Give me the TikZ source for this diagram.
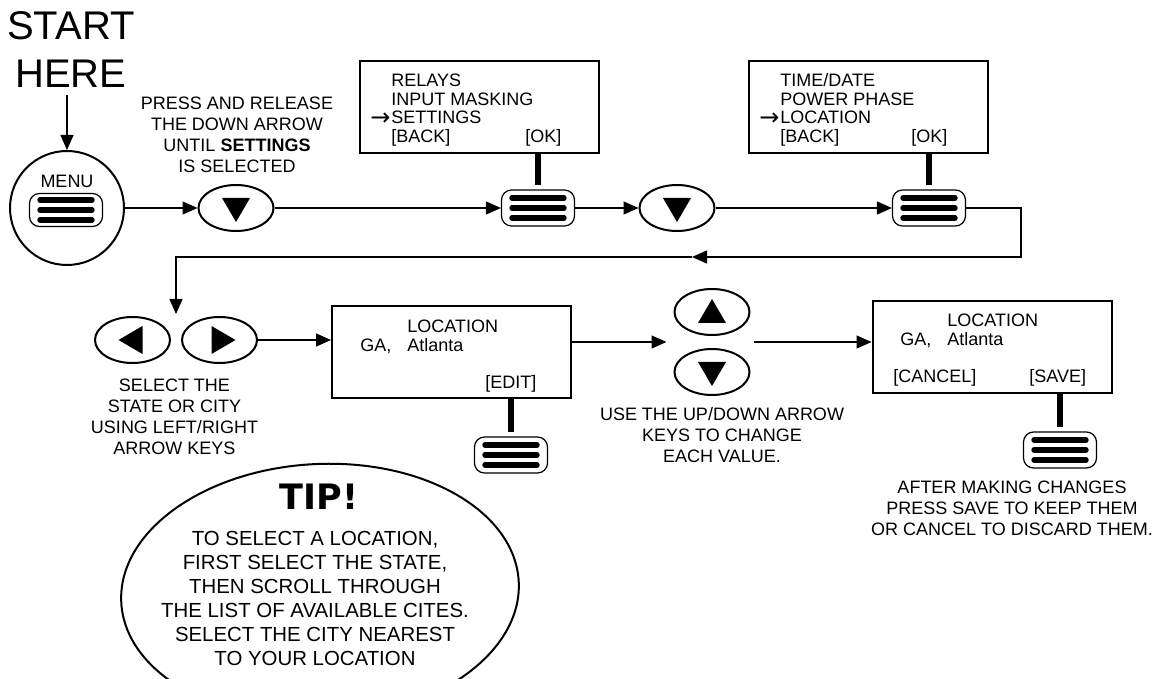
\documentclass[tikz,border=0pt]{standalone}
\usepackage{fontspec}
\setmainfont{Liberation Sans}
\newfontfamily\tipfont{DejaVu Sans}
\usetikzlibrary{arrows.meta,calc,shapes.geometric}

\begin{document}
\begin{tikzpicture}[
  x=0.5pt,
  y=-0.5pt,
  every node/.style={font=\fontsize{9}{10.5}\selectfont},
  screen/.style={
    draw,
    line width=1pt,
    minimum width=119.5pt,
    minimum height=46pt
  },
  scrtext/.style={anchor=base west, inner sep=0pt},
  pointer/.style={
    anchor=base east,
    inner sep=0pt,
    font=\tipfont\fontsize{12}{12}\selectfont
  },
  hint/.style={align=center, inner sep=0pt},
  dial/.style={draw, circle, line width=1pt, minimum size=57pt},
  key/.style={
    draw,
    ellipse,
    line width=1pt,
    minimum width=37.5pt,
    minimum height=23pt
  },
  key down/.style={key, path picture={
    \fill ([shift={(-14,-10)}]path picture bounding box.center)
      -- ++(28,0) -- ++(-14,24) -- cycle;}},
  key up/.style={key, path picture={
    \fill ([shift={(-14,11)}]path picture bounding box.center)
      -- ++(28,0) -- ++(-14,-24) -- cycle;}},
  key left/.style={key, path picture={
    \fill ([shift={(10,-14)}]path picture bounding box.center)
      -- ++(0,28) -- ++(-24,-14) -- cycle;}},
  key right/.style={key, path picture={
    \fill ([shift={(-8,-14)}]path picture bounding box.center)
      -- ++(0,28) -- ++(24,-14) -- cycle;}},
  okkey/.style={
    draw,
    rounded corners=5pt,
    line width=0.6pt,
    minimum width=36.5pt,
    minimum height=18pt,
    path picture={
      \foreach \yy in {-10,0,10}
        \draw[line width=2.7pt, line cap=round]
          ([shift={(-26,\yy)}]path picture bounding box.center) -- ++(52,0);
    }
  },
  bubble/.style={
    draw,
    ellipse,
    line width=1pt,
    rotate=3,
    minimum width=199pt,
    minimum height=128pt
  },
  arrow/.style={-{Triangle[length=7.5pt,width=6.5pt]}, line width=0.7pt},
  stem/.style={line width=3pt, shorten >=2pt}
]
\clip (0,0) rectangle (1152,679);

\node[font=\fontsize{20}{24}\selectfont, align=center] (start) at (71,50) {START\\HERE};
\node[dial] (menu) at (67,208) {};
\node (menulabel) at (67,181) {MENU};
\node[okkey, minimum height=16.5pt] (menukey) at (66,210) {};

\node[key down] (dn1) at (236,208) {};
\node[hint] (presshint) at (237,134.5) {PRESS AND RELEASE\\THE DOWN ARROW\\UNTIL \textbf{SETTINGS}\\IS SELECTED};

\node[screen] (scr1) at (479.5,107) {};
\node[scrtext] (relays) at (391,87) {RELAYS};
\node[scrtext] (masking) at (391,106) {INPUT MASKING};
\node[scrtext] (settings) at (391,123.5) {SETTINGS};
\node[pointer] (pick1) at ([yshift=-1pt]settings.base west) {→};
\node[scrtext] (back1) at (391,143) {[BACK]};
\node[scrtext] (ok1) at (525,143) {[OK]};
\node[okkey] (btn1) at (538,208) {};

\node[key down] (dn2) at (677,208) {};

\node[screen] (scr2) at (868.5,107) {};
\node[scrtext] (timedate) at (780,87) {TIME/DATE};
\node[scrtext] (phase) at (780,106) {POWER PHASE};
\node[scrtext] (location) at (780,123.5) {LOCATION};
\node[pointer] (pick2) at ([yshift=-1pt]location.base west) {→};
\node[scrtext] (back2) at (780,143) {[BACK]};
\node[scrtext] (ok2) at (911,143) {[OK]};
\node[okkey] (btn2) at (929,208) {};

\node[key left] (lt) at (132.5,340) {};
\node[key right] (rt) at (219.5,340) {};
\node[hint] (lrhint) at (174.5,417) {SELECT THE\\STATE OR CITY\\USING LEFT/RIGHT\\ARROW KEYS};

\node[screen] (scr3) at (451.5,352.5) {};
\node[scrtext] (loc3) at (407,333) {LOCATION};
\node[scrtext] (state3) at (360,352) {GA,};
\node[scrtext] (city3) at (407,352) {Atlanta};
\node[scrtext] (edit3) at (485,389) {[EDIT]};
\node[okkey] (btn3) at (511,455) {};

\node[key up] (up) at (712,312) {};
\node[key down] (dn3) at (712,372) {};
\node[hint] (udhint) at (722,435) {USE THE UP/DOWN ARROW\\KEYS TO CHANGE\\EACH VALUE.};

\node[screen] (scr4) at (992,347) {};
\node[scrtext] (loc4) at (947,327) {LOCATION};
\node[scrtext] (state4) at (900,346) {GA,};
\node[scrtext] (city4) at (947,346) {Atlanta};
\node[scrtext] (cancel4) at (893,383) {[CANCEL]};
\node[scrtext] (save4) at (1029,383) {[SAVE]};
\node[okkey] (btn4) at (1060,450) {};
\node[hint] (savehint) at (1012,508) {AFTER MAKING CHANGES\\PRESS SAVE TO KEEP THEM\\OR CANCEL TO DISCARD THEM.};

\node[bubble] (tip) at (320,592) {};
\node[font=\tipfont\bfseries\fontsize{17.5}{17.5}\selectfont] (tiptitle) at (319,497) {TIP!};
\node[hint, font=\fontsize{10.2}{12}\selectfont] (tipnote) at (315,598) {TO SELECT A LOCATION,\\FIRST SELECT THE STATE,\\THEN SCROLL THROUGH\\THE LIST OF AVAILABLE CITES.\\SELECT THE CITY NEAREST\\TO YOUR LOCATION};

\draw[arrow] (start.south -| menu) -- (menu.north);
\draw[arrow] (menu) -- (dn1);
\draw[arrow] (dn1) -- (btn1);
\draw[arrow] (btn1) -- (dn2);
\draw[arrow] (dn2) -- (btn2);
\draw[stem] (scr1.south -| btn1) -- (btn1.north);
\draw[stem] (scr2.south -| btn2) -- (btn2.north);

\coordinate (turn) at (1021,257);
\coordinate (back) at (692,257);
\coordinate (drop) at (176,314);
\draw[arrow] (btn2.east) -| (turn) -- (back);
\draw[arrow] (back) -| (drop);

\draw[arrow] (rt) -- (scr3.west |- rt);
\draw[stem] (scr3.south -| btn3) -- (btn3.north);
\coordinate (udleft) at ($(up.west)!0.5!(dn3.west)$);
\coordinate (udright) at ($(up.east)!0.5!(dn3.east)$);
\draw[arrow, shorten >=3.5pt] (scr3.east |- udleft) -- (udleft);
\draw[arrow, shorten <=1.5pt] (udright) -- (scr4.west |- udright);
\draw[stem] (scr4.south -| btn4) -- (btn4.north);
\end{tikzpicture}
\end{document}
